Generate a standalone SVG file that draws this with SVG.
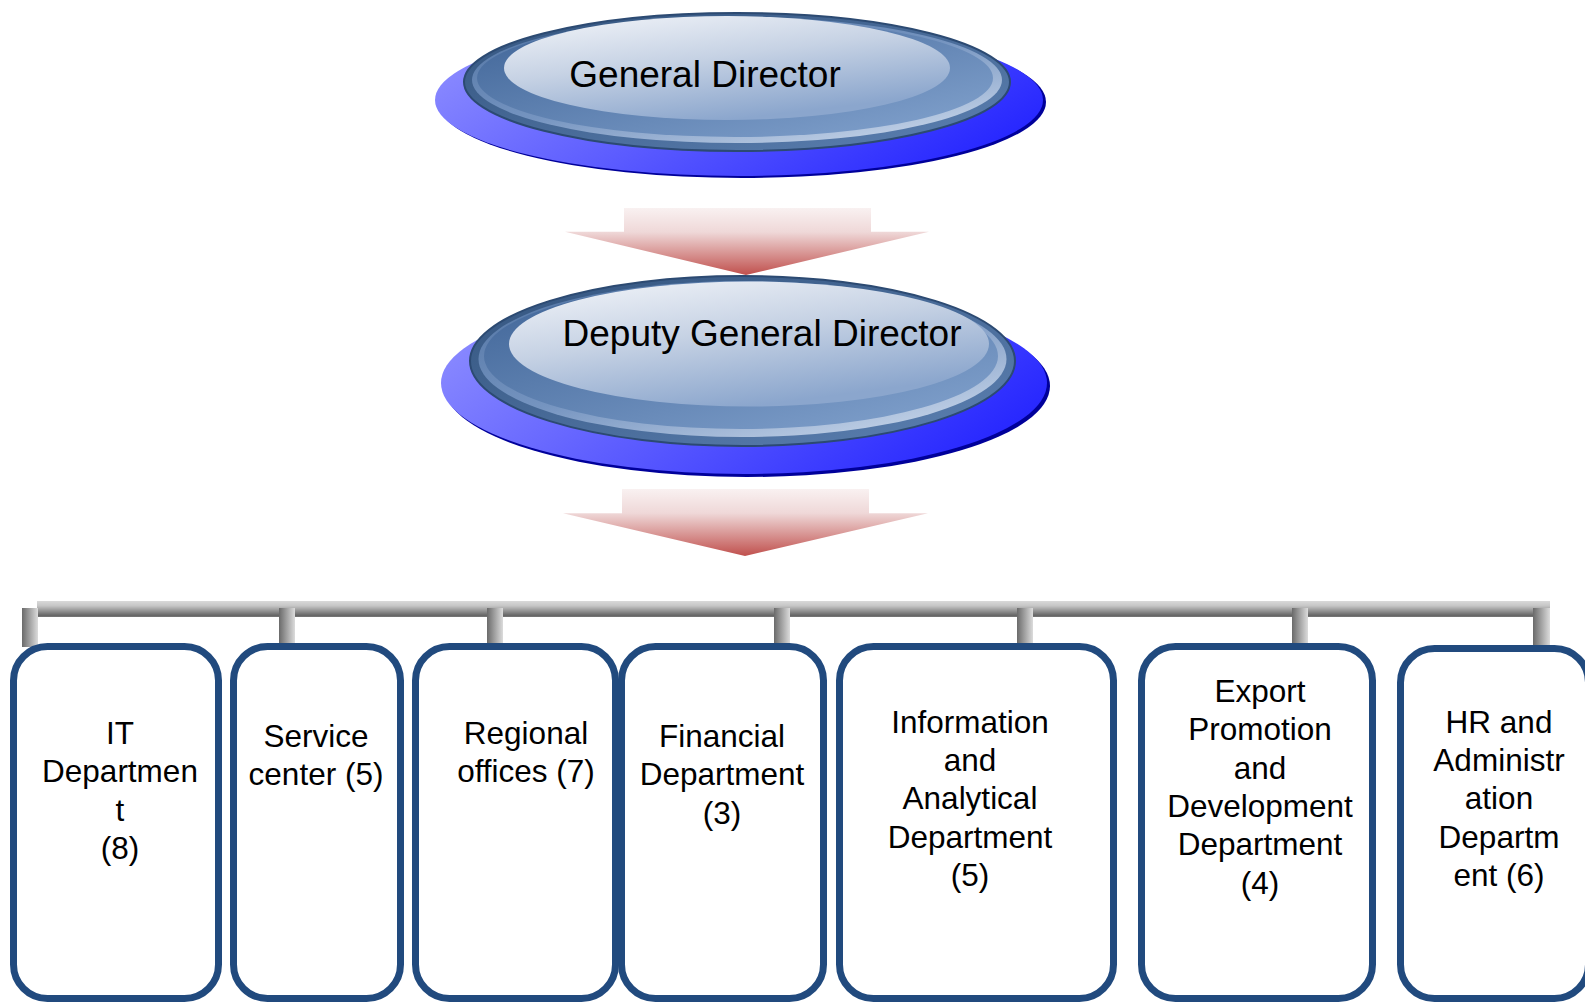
<svg xmlns="http://www.w3.org/2000/svg" width="1585" height="1002" viewBox="0 0 1585 1002">
<defs>
<linearGradient id="disc" x1="0" y1="0.3" x2="1" y2="0.7"><stop offset="0" stop-color="#8a8aff"/><stop offset="1" stop-color="#2424ff"/></linearGradient>
<linearGradient id="ring" x1="0" y1="0" x2="1" y2="1"><stop offset="0" stop-color="#33547e"/><stop offset="1" stop-color="#5c80b1"/></linearGradient>
<linearGradient id="bevel" x1="0" y1="0" x2="0.8" y2="1"><stop offset="0" stop-color="#4e71a1"/><stop offset="0.55" stop-color="#7594c0"/><stop offset="1" stop-color="#c4d3e8"/></linearGradient>
<linearGradient id="face" x1="0" y1="0" x2="1" y2="1"><stop offset="0" stop-color="#3e6396"/><stop offset="1" stop-color="#84a4cf"/></linearGradient>
<linearGradient id="hl" x1="0" y1="0" x2="0.5" y2="1"><stop offset="0" stop-color="#f4f6fa"/><stop offset="0.5" stop-color="#c6d2e4"/><stop offset="1" stop-color="#8ba6cd"/></linearGradient>
<linearGradient id="arrow" x1="0" y1="0" x2="0" y2="1"><stop offset="0" stop-color="#f9f1f1"/><stop offset="0.36" stop-color="#efd8d8"/><stop offset="1" stop-color="#c0504d"/></linearGradient>
<linearGradient id="bar" x1="0" y1="0" x2="0" y2="1"><stop offset="0" stop-color="#d9d9d9"/><stop offset="0.3" stop-color="#c6c6c6"/><stop offset="0.9" stop-color="#666666"/><stop offset="1" stop-color="#7a7a7a"/></linearGradient>
<linearGradient id="stub" x1="0" y1="0" x2="1" y2="0"><stop offset="0" stop-color="#6a6a6a"/><stop offset="1" stop-color="#dcdcdc"/></linearGradient>
</defs>
<style>
.t{font-family:"Liberation Sans",Arial,sans-serif;fill:#000;text-anchor:middle}
.big{font-size:37px}
.lbl{font-size:31.5px}
.box{fill:#fff;stroke:#214a7e;stroke-width:7}
.rim{fill:#00009a}
.ringE{fill:url(#ring);stroke:#2c4a72;stroke-width:2}
</style>
<g id="connectors">
<path d="M624 208H871V231.7H929L746 275L565 231.7H624Z" fill="url(#arrow)"/>
<path d="M622 489H869V513.3H928L745 556L563 513.3H622Z" fill="url(#arrow)"/>
<rect x="37" y="601" width="1513" height="16" fill="url(#bar)"/>
<rect x="22" y="608" width="16" height="39" fill="url(#stub)"/>
<rect x="279" y="608" width="16" height="39" fill="url(#stub)"/>
<rect x="487" y="608" width="16" height="39" fill="url(#stub)"/>
<rect x="774" y="608" width="16" height="39" fill="url(#stub)"/>
<rect x="1017" y="608" width="16" height="39" fill="url(#stub)"/>
<rect x="1292" y="608" width="16" height="39" fill="url(#stub)"/>
<rect x="1533" y="608" width="17" height="40" fill="url(#stub)"/>
</g>
<g id="general-director">
<ellipse class="rim" cx="742" cy="102" rx="304" ry="76"/>
<ellipse cx="739" cy="100" rx="304" ry="76" fill="url(#disc)"/>
<ellipse class="ringE" cx="737" cy="82" rx="273" ry="69"/>
<ellipse cx="737" cy="80" rx="265" ry="63" fill="url(#bevel)"/>
<ellipse cx="735" cy="78" rx="258" ry="59" fill="url(#face)"/>
<ellipse cx="727" cy="68" rx="223" ry="52" fill="url(#hl)"/>
<text class="t big" x="705" y="87">General Director</text>
</g>
<g id="deputy-general-director">
<ellipse class="rim" cx="747" cy="386" rx="303" ry="91"/>
<ellipse cx="744" cy="383" rx="303" ry="91" fill="url(#disc)"/>
<ellipse class="ringE" cx="742.5" cy="361" rx="272.5" ry="85"/>
<ellipse cx="742.5" cy="359" rx="264" ry="78" fill="url(#bevel)"/>
<ellipse cx="741" cy="356" rx="257" ry="73" fill="url(#face)"/>
<ellipse cx="749" cy="344" rx="240" ry="62.5" fill="url(#hl)"/>
<text class="t big" x="762" y="346">Deputy General Director</text>
</g>
<g id="it-department">
<rect class="box" x="13.5" y="646.5" width="205" height="352" rx="34"/>
<text class="t lbl" x="120"><tspan x="120" y="744">IT</tspan><tspan x="120" y="782.3">Departmen</tspan><tspan x="120" y="820.6">t</tspan><tspan x="120" y="858.9">(8)</tspan></text>
</g>
<g id="service-center">
<rect class="box" x="233.5" y="646.5" width="167" height="352" rx="34"/>
<text class="t lbl" x="316"><tspan x="316" y="746.7">Service</tspan><tspan x="316" y="785">center (5)</tspan></text>
</g>
<g id="regional-offices">
<rect class="box" x="415.5" y="646.5" width="200" height="352" rx="34"/>
<text class="t lbl" x="526"><tspan x="526" y="744">Regional</tspan><tspan x="526" y="782.3">offices (7)</tspan></text>
</g>
<g id="financial-department">
<rect class="box" x="621.5" y="646.5" width="202" height="352" rx="34"/>
<text class="t lbl" x="722"><tspan x="722" y="747">Financial</tspan><tspan x="722" y="785.3">Department</tspan><tspan x="722" y="823.6">(3)</tspan></text>
</g>
<g id="information-analytical-department">
<rect class="box" x="839.5" y="646.5" width="274" height="352" rx="34"/>
<text class="t lbl" x="970"><tspan x="970" y="732.7">Information</tspan><tspan x="970" y="771">and</tspan><tspan x="970" y="809.3">Analytical</tspan><tspan x="970" y="847.6">Department</tspan><tspan x="970" y="885.9">(5)</tspan></text>
</g>
<g id="export-promotion-department">
<rect class="box" x="1141.5" y="646.5" width="231" height="352" rx="34"/>
<text class="t lbl" x="1260"><tspan x="1260" y="702">Export</tspan><tspan x="1260" y="740.3">Promotion</tspan><tspan x="1260" y="778.6">and</tspan><tspan x="1260" y="816.9">Development</tspan><tspan x="1260" y="855.2">Department</tspan><tspan x="1260" y="893.5">(4)</tspan></text>
</g>
<g id="hr-administration-department">
<rect class="box" x="1400.5" y="648.5" width="188" height="350" rx="34"/>
<text class="t lbl" x="1499"><tspan x="1499" y="732.7">HR and</tspan><tspan x="1499" y="771">Administr</tspan><tspan x="1499" y="809.3">ation</tspan><tspan x="1499" y="847.6">Departm</tspan><tspan x="1499" y="885.9">ent (6)</tspan></text>
</g>
</svg>
